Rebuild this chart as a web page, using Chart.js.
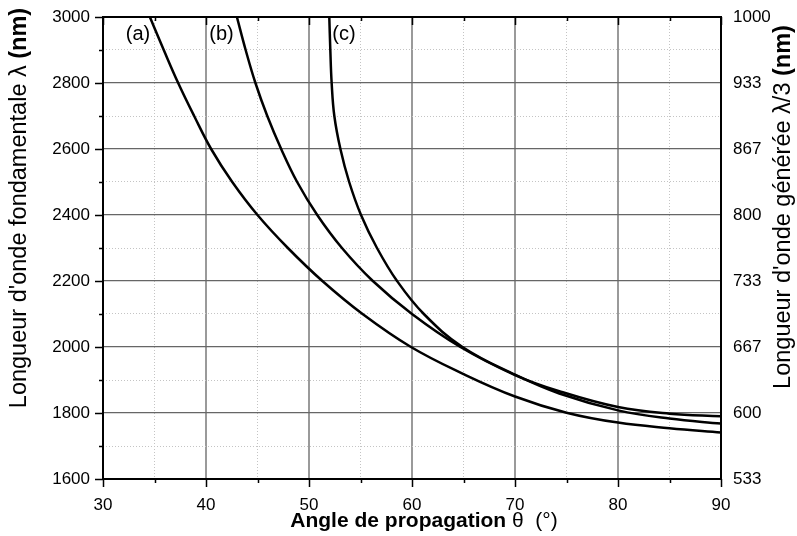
<!DOCTYPE html>
<html>
<head>
<meta charset="utf-8">
<script src="https://cdn.jsdelivr.net/npm/chart.js@4.4.0/dist/chart.umd.min.js"></script>
<style>
  html, body { margin: 0; padding: 0; background: #fff; }
  #wrap { width: 797px; height: 536px; }
</style>
</head>
<body>
<div id="wrap"><canvas id="chart"></canvas></div>
<script>
// curve (a)
const thetaA = [34.55, 35.9, 37.3, 38.85, 40.5, 42.55, 45.0, 47.95, 51.3, 55.2, 59.9, 65, 70, 75, 80, 85, 90];
const lambdaA = [3000, 2900, 2800, 2700, 2600, 2500, 2400, 2300, 2200, 2100, 2000, 1918, 1850, 1801, 1771, 1754, 1741];
// curve (b)
const thetaB = [43.0, 43.85, 44.8, 45.95, 47.3, 48.85, 50.8, 53.2, 56.2, 60.0, 64.7, 70, 74.3, 80, 85, 90];
const lambdaB = [3000, 2900, 2800, 2700, 2600, 2500, 2400, 2300, 2200, 2100, 2000, 1915, 1866, 1818, 1798, 1790];
// curve (c)
const thetaC = [51.97, 52.07, 52.2, 52.46, 53.05, 53.9, 55.05, 56.6, 58.55, 61.15, 64.9, 70, 74.3, 80, 85, 90];
const lambdaC = [3000, 2900, 2800, 2700, 2600, 2500, 2400, 2300, 2200, 2100, 2000, 1916, 1859, 1808, 1783, 1768];

const curveNames = ['(a)', '(b)', '(c)'];
const lambdaTicks = [1600, 1800, 2000, 2200, 2400, 2600, 2800, 3000];
const thetaTicks = [30, 40, 50, 60, 70, 80, 90];

const FONT = '"Liberation Sans", Arial, sans-serif';

function toPoints(xs, ys) {
    return xs.map((x, i) => ({ x: x, y: ys[i] }));
}

function curve(data) {
    return {
        data: data,
        showLine: true,
        borderColor: '#000',
        borderWidth: 2.5,
        pointRadius: 0,
        fill: false,
        tension: 0.4
    };
}

const isMajorX = v => Math.abs(v % 10) < 1e-6;
const isMajorY = v => Math.abs(v % 200) < 1e-6;

// fixed axis sizes, no extra label padding
function fixSize(prop, size) {
    return s => {
        s[prop] = size;
        s.paddingTop = 0; s.paddingBottom = 0;
        s.paddingLeft = 0; s.paddingRight = 0;
    };
}

// draws text made of parts with different fonts, centred on cx,cy
function drawMixed(ctx, parts, cx, cy, vertical) {
    ctx.save();
    let total = 0;
    parts.forEach(p => { ctx.font = p.font; total += ctx.measureText(p.text).width; });
    ctx.translate(cx, cy);
    if (vertical) ctx.rotate(-Math.PI / 2);
    ctx.textBaseline = 'middle';
    ctx.textAlign = 'left';
    ctx.fillStyle = '#000';
    let x = -total / 2;
    parts.forEach(p => {
        ctx.font = p.font;
        ctx.fillText(p.text, x, 0);
        x += ctx.measureText(p.text).width;
    });
    ctx.restore();
}

const framePlugin = {
    id: 'frame',
    afterDraw(chart) {
        const ctx = chart.ctx;
        const a = chart.chartArea;
        const sx = chart.scales.x, sy = chart.scales.y;
        ctx.save();
        ctx.strokeStyle = '#000';
        ctx.lineWidth = 2;
        ctx.strokeRect(a.left, a.top, a.right - a.left, a.bottom - a.top);
        ctx.lineWidth = 1.5;
        ctx.beginPath();
        sx.ticks.forEach(t => {
            const px = Math.round(sx.getPixelForValue(t.value)) + 0.5;
            const len = isMajorX(t.value) ? 8 : 4;
            ctx.moveTo(px, a.bottom); ctx.lineTo(px, a.bottom + len);
            ctx.moveTo(px, a.top); ctx.lineTo(px, a.top + len);
        });
        sy.ticks.forEach(t => {
            const py = Math.round(sy.getPixelForValue(t.value)) + 0.5;
            const len = isMajorY(t.value) ? 8 : 4;
            ctx.moveTo(a.left, py); ctx.lineTo(a.left - len, py);
        });
        ctx.stroke();

        // curve labels
        ctx.font = '20px ' + FONT;
        ctx.fillStyle = '#000';
        ctx.textAlign = 'center';
        ctx.textBaseline = 'middle';
        const labelTheta = [33.4, 41.5, 53.4];
        curveNames.forEach((n, i) => {
            ctx.fillText(n, sx.getPixelForValue(labelTheta[i]), sy.getPixelForValue(2948));
        });
        ctx.restore();

        // axis titles
        drawMixed(ctx, [
            { text: 'Angle de propagation ', font: 'bold 21px ' + FONT },
            { text: '\u03B8  (\u00B0)', font: '21px ' + FONT }
        ], 424, 521, false);
        drawMixed(ctx, [
            { text: 'Longueur d\'onde fondamentale \u03BB ', font: '23.5px ' + FONT },
            { text: '(nm)', font: 'bold 23.5px ' + FONT }
        ], 20, 208, true);
        drawMixed(ctx, [
            { text: 'Longueur d\'onde g\u00E9n\u00E9r\u00E9e \u03BB/3 ', font: '23.5px ' + FONT },
            { text: '(nm)', font: 'bold 23.5px ' + FONT }
        ], 784, 207, true);
    }
};

new Chart(document.getElementById('chart'), {
    type: 'scatter',
    data: {
        datasets: [
            curve(toPoints(thetaA, lambdaA)),
            curve(toPoints(thetaB, lambdaB)),
            curve(toPoints(thetaC, lambdaC))
        ]
    },
    options: {
        responsive: true,
        maintainAspectRatio: false,
        animation: false,
        devicePixelRatio: 1,
        layout: { padding: { top: 17 } },
        plugins: {
            legend: { display: false },
            tooltip: { enabled: false }
        },
        scales: {
            x: {
                type: 'linear',
                position: 'bottom',
                min: 30,
                max: 90,
                afterFit: fixSize('height', 57),
                ticks: {
                    stepSize: 5,
                    autoSkip: false,
                    maxRotation: 0,
                    padding: 16,
                    color: '#000',
                    font: { family: FONT, size: 17 },
                    callback: v => thetaTicks.includes(v) ? String(v) : ''
                },
                grid: {
                    drawTicks: false,
                    color: c => isMajorX(c.tick.value) ? '#9a9a9a' : '#c4c4c4',
                    lineWidth: c => isMajorX(c.tick.value) ? 2 : 1
                },
                border: { display: false, dash: c => isMajorX(c.tick.value) ? [] : [1, 2] }
            },
            y: {
                type: 'linear',
                position: 'left',
                min: 1600,
                max: 3000,
                afterFit: fixSize('width', 103),
                ticks: {
                    stepSize: 100,
                    autoSkip: false,
                    padding: 13,
                    color: '#000',
                    font: { family: FONT, size: 17 },
                    callback: v => lambdaTicks.includes(v) ? String(v) : ''
                },
                grid: {
                    drawTicks: false,
                    color: c => isMajorY(c.tick.value) ? '#666' : '#c4c4c4',
                    lineWidth: c => isMajorY(c.tick.value) ? 1.2 : 1
                },
                border: { display: false, dash: c => isMajorY(c.tick.value) ? [] : [1, 2] }
            },
            y2: {
                type: 'linear',
                position: 'right',
                min: lambdaTicks[0] / 3,
                max: lambdaTicks[lambdaTicks.length - 1] / 3,
                afterFit: fixSize('width', 76),
                afterBuildTicks: s => { s.ticks = lambdaTicks.map(v => ({ value: v / 3 })); },
                ticks: {
                    autoSkip: false,
                    padding: 12,
                    color: '#000',
                    font: { family: FONT, size: 17 },
                    callback: v => String(Math.round(v))
                },
                grid: { drawOnChartArea: false, drawTicks: false },
                border: { display: false }
            }
        }
    },
    plugins: [framePlugin]
});
</script>
</body>
</html>
